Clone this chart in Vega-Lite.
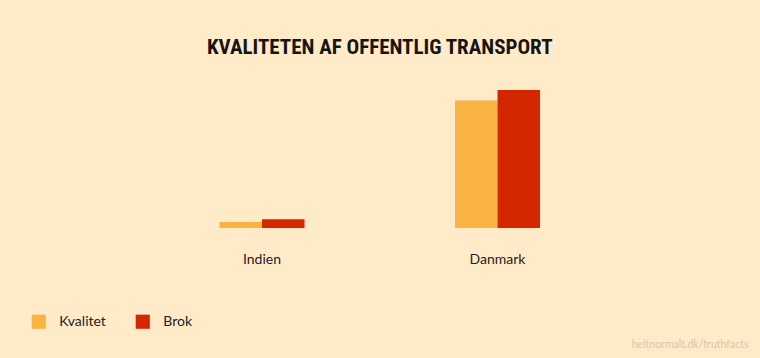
{
  "$schema": "https://vega.github.io/schema/vega-lite/v6.json",
  "width": 471,
  "height": 150,
  "autosize": {"type": "none"},
  "padding": {"left": 144.25, "top": 78, "right": 144.75, "bottom": 130},
  "background": "#FFEBC8",
  "title": {
    "text": "KVALITETEN AF OFFENTLIG TRANSPORT",
    "font": "'Roboto Condensed', 'Open Sans Condensed', 'Liberation Sans Narrow', 'DejaVu Sans Condensed', sans-serif",
    "fontSize": 21,
    "fontWeight": "bold",
    "color": "#151515",
    "anchor": "middle",
    "baseline": "alphabetic",
    "offset": 3
  },
  "data": {
    "values": [
      {"land": "Indien", "serie": "Kvalitet", "value": 6},
      {"land": "Indien", "serie": "Brok", "value": 8.7},
      {"land": "Danmark", "serie": "Kvalitet", "value": 127.5},
      {"land": "Danmark", "serie": "Brok", "value": 138}
    ]
  },
  "mark": {"type": "bar"},
  "encoding": {
    "x": {
      "field": "land",
      "type": "nominal",
      "sort": ["Indien", "Danmark"],
      "scale": {"paddingInner": 0.639, "paddingOuter": 0.3195},
      "axis": {
        "title": "heltnormalt.dk/truthfacts",
        "titleFont": "Lato",
        "titleFontSize": 10.5,
        "titleFontWeight": "normal",
        "titleColor": "#D9C7A4",
        "titleAlign": "right",
        "titleAnchor": null,
        "titleBaseline": "middle",
        "titleX": 603.75,
        "titleY": 116,
        "labelAngle": 0,
        "labelFont": "Lato",
        "labelFontSize": 14,
        "labelColor": "#222222",
        "labelPadding": 24,
        "domain": false,
        "ticks": false,
        "grid": false
      }
    },
    "xOffset": {
      "field": "serie",
      "type": "nominal",
      "sort": ["Kvalitet", "Brok"],
      "scale": {"paddingInner": 0, "paddingOuter": 0}
    },
    "y": {
      "field": "value",
      "type": "quantitative",
      "scale": {"domain": [0, 150], "nice": false},
      "axis": null
    },
    "color": {
      "field": "serie",
      "type": "nominal",
      "sort": ["Kvalitet", "Brok"],
      "scale": {"domain": ["Kvalitet", "Brok"], "range": ["#FAB240", "#D42600"]},
      "legend": {
        "title": null,
        "orient": "none",
        "direction": "horizontal",
        "legendX": -113,
        "legendY": 236,
        "symbolType": "square",
        "symbolSize": 200,
        "symbolStrokeWidth": 0,
        "symbolOpacity": 1,
        "labelFont": "Lato",
        "labelFontSize": 14,
        "labelColor": "#222222",
        "labelOffset": 13,
        "columnPadding": 29
      }
    }
  },
  "config": {
    "view": {"stroke": null}
  }
}
